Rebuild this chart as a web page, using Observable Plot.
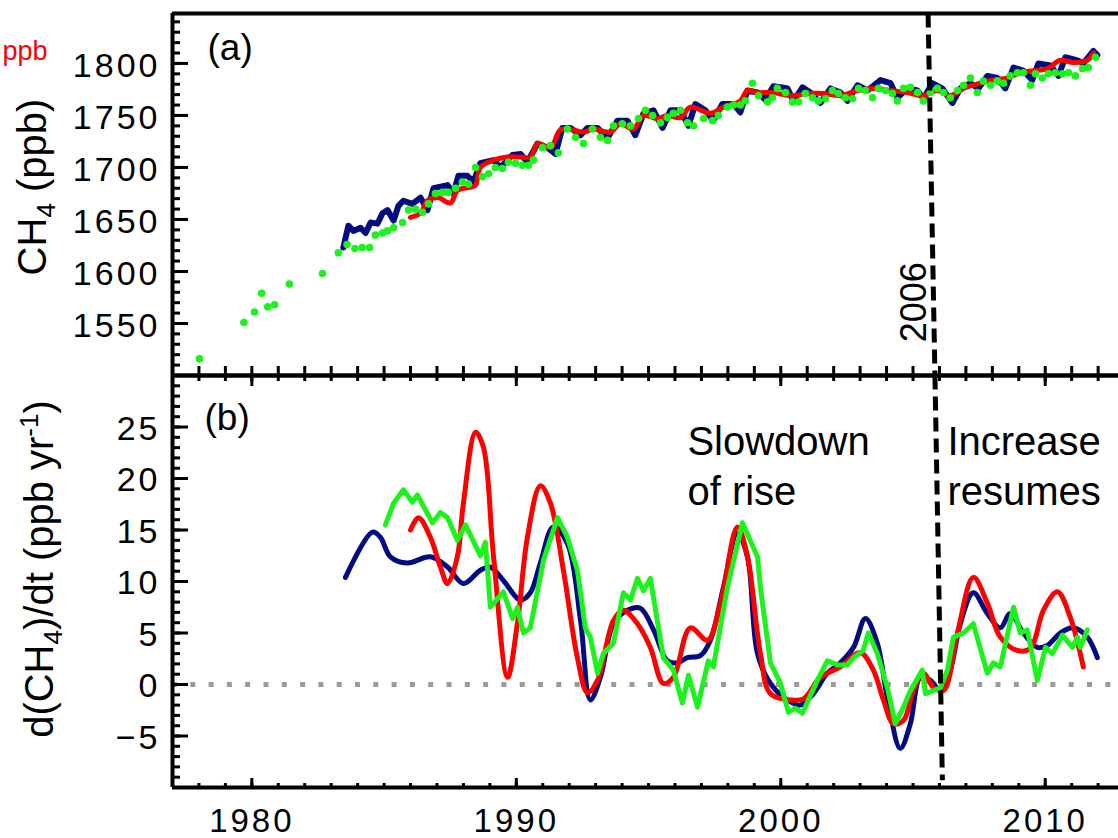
<!DOCTYPE html>
<html><head><meta charset="utf-8">
<script src="https://cdn.jsdelivr.net/npm/d3@7"></script>
<script src="https://cdn.jsdelivr.net/npm/@observablehq/plot@0.6"></script>
<style>
body{margin:0;background:#fff;}
#chart svg{display:block;}
</style></head><body><div id="chart"></div>
<script>
// ---------- data (year, value) ----------
// Panel (a): CH4 mixing ratio (ppb)
const aBlue = [[1983.46,1623],[1983.65,1644],[1983.84,1639],[1984.11,1642],[1984.30,1637],[1984.49,1647],[1984.75,1646],[1984.94,1656],[1985.13,1659],[1985.36,1649],[1985.54,1663],[1985.73,1668],[1986.07,1665],[1986.38,1671],[1986.64,1659],[1986.87,1680],[1987.40,1683],[1987.62,1675],[1987.81,1692],[1988.15,1692],[1988.38,1686],[1988.64,1704],[1989.14,1707],[1989.40,1700],[1989.85,1712],[1990.16,1713],[1990.42,1705],[1990.80,1723],[1991.18,1719],[1991.48,1713],[1991.74,1738],[1992.05,1738],[1992.43,1731],[1992.69,1738],[1993.07,1738],[1993.45,1728],[1993.82,1745],[1994.20,1745],[1994.50,1731],[1994.81,1752],[1995.19,1755],[1995.53,1738],[1995.83,1755],[1996.21,1755],[1996.51,1740],[1996.77,1761],[1997.15,1755],[1997.45,1745],[1997.79,1761],[1998.21,1761],[1998.47,1753],[1998.74,1774],[1999.12,1772],[1999.42,1765],[1999.72,1778],[2000.05,1777],[2000.25,1776],[2000.48,1764],[2000.82,1777],[2001.12,1772],[2001.50,1762],[2001.88,1776],[2002.26,1772],[2002.52,1764],[2002.90,1779],[2003.28,1774],[2003.77,1784],[2004.15,1781],[2004.41,1767],[2004.79,1776],[2005.17,1774],[2005.39,1766],[2005.73,1781],[2006.11,1776],[2006.49,1762],[2006.79,1776],[2007.17,1781],[2007.47,1776],[2007.81,1788],[2008.19,1786],[2008.49,1776],[2008.80,1796],[2009.17,1793],[2009.51,1784],[2009.74,1800],[2010.20,1798],[2010.50,1788],[2010.76,1806],[2011.22,1803],[2011.44,1800],[2011.82,1812],[2011.97,1808]];
const aRed = [[1986.00,1652],[1986.38,1656],[1986.64,1668],[1987.02,1671],[1987.51,1666],[1987.78,1678],[1988.27,1681],[1988.46,1683],[1988.64,1700],[1989.14,1707],[1989.67,1710],[1990.16,1710],[1990.54,1710],[1990.80,1723],[1991.29,1719],[1991.67,1736],[1992.16,1736],[1992.54,1734],[1992.92,1737],[1993.56,1734],[1993.94,1742],[1994.43,1737],[1994.81,1750],[1995.34,1747],[1995.71,1750],[1996.21,1748],[1996.58,1758],[1997.34,1752],[1997.83,1758],[1998.47,1764],[1998.74,1774],[1999.12,1772],[1999.72,1772],[2000.37,1769],[2001.01,1771],[2001.61,1771],[2002.26,1769],[2002.90,1774],[2003.50,1776],[2004.15,1774],[2004.79,1772],[2005.39,1769],[2005.92,1774],[2006.41,1769],[2006.91,1776],[2007.55,1781],[2008.04,1784],[2008.57,1786],[2009.06,1791],[2009.55,1793],[2010.08,1795],[2010.57,1803],[2011.06,1801],[2011.59,1803],[2011.82,1810]];
const aGreen = [[1978.02,1516],[1979.70,1551],[1980.10,1561],[1980.37,1579],[1980.60,1566],[1980.86,1568],[1981.42,1588],[1982.67,1598],[1983.27,1618],[1983.60,1626],[1983.90,1622],[1984.17,1623],[1984.45,1623],[1984.67,1635],[1984.94,1637],[1985.13,1639],[1985.36,1642],[1985.70,1647],[1985.92,1659],[1986.19,1660],[1986.45,1657],[1986.68,1665],[1986.94,1675],[1987.21,1676],[1987.43,1676],[1987.70,1680],[1987.96,1686],[1988.19,1684],[1988.46,1700],[1988.72,1691],[1988.95,1694],[1989.21,1700],[1989.48,1699],[1989.70,1705],[1989.97,1704],[1990.23,1702],[1990.46,1702],[1990.65,1707],[1990.99,1719],[1991.29,1721],[1991.59,1714],[1991.93,1737],[1992.24,1729],[1992.54,1723],[1992.88,1737],[1993.18,1729],[1993.45,1726],[1993.67,1740],[1994.01,1742],[1994.32,1740],[1994.62,1747],[1994.88,1755],[1995.15,1750],[1995.45,1743],[1995.71,1748],[1995.94,1752],[1996.21,1755],[1996.47,1743],[1996.70,1740],[1997.08,1747],[1997.42,1745],[1997.64,1750],[1997.98,1758],[1998.21,1760],[1998.47,1760],[1998.66,1764],[1998.93,1781],[1999.16,1769],[1999.50,1763],[1999.68,1767],[1999.87,1776],[2000.18,1772],[2000.44,1763],[2000.67,1763],[2000.93,1771],[2001.20,1767],[2001.42,1764],[2001.69,1766],[2001.95,1774],[2002.18,1771],[2002.44,1767],[2002.71,1766],[2002.94,1776],[2003.20,1774],[2003.47,1767],[2003.69,1776],[2003.96,1774],[2004.22,1771],[2004.41,1764],[2004.64,1776],[2004.90,1777],[2005.17,1772],[2005.39,1764],[2005.66,1772],[2005.92,1776],[2006.15,1772],[2006.41,1767],[2006.68,1774],[2006.91,1779],[2007.17,1786],[2007.43,1772],[2007.66,1783],[2007.93,1779],[2008.19,1783],[2008.42,1781],[2008.68,1788],[2008.95,1791],[2009.17,1791],[2009.44,1779],[2009.63,1790],[2009.89,1786],[2010.12,1790],[2010.38,1791],[2010.65,1790],[2010.88,1791],[2011.14,1788],[2011.41,1795],[2011.63,1796],[2011.90,1806]];

// Panel (b): growth rate d(CH4)/dt (ppb/yr)
const bBlue = [[1983.54,10.4],[1984.56,14.8],[1984.86,14.3],[1985.24,12.4],[1985.88,11.8],[1986.75,12.4],[1987.40,11.4],[1988.00,9.8],[1988.64,11.1],[1989.02,11.4],[1989.51,10.1],[1990.16,8.2],[1990.53,8.9],[1990.91,11.8],[1991.40,15.3],[1991.93,13.7],[1992.43,6.2],[1992.80,-1.5],[1993.18,0.7],[1993.67,5.9],[1994.20,7.2],[1994.69,7.4],[1995.19,5.3],[1995.71,2.3],[1996.09,2.1],[1996.47,2.6],[1996.96,2.8],[1997.34,4.3],[1997.83,9.4],[1998.36,14.7],[1998.74,12.4],[1999.12,3.0],[1999.61,0.1],[2000.25,-1.5],[2000.74,-2.0],[2001.23,-0.9],[2001.76,1.1],[2002.25,2.1],[2002.75,3.6],[2003.20,6.4],[2003.65,4.0],[2004.03,-1.3],[2004.52,-6.2],[2004.90,-3.8],[2005.28,0.7],[2005.66,0.4],[2006.04,-0.6],[2006.41,1.4],[2006.79,5.9],[2007.28,8.9],[2007.81,6.9],[2008.30,5.5],[2008.68,6.9],[2009.17,5.0],[2009.70,3.6],[2010.08,3.8],[2010.57,5.0],[2011.06,5.5],[2011.59,4.6],[2011.97,2.6]];
const bRed = [[1986.00,15.0],[1986.30,16.2],[1986.75,14.3],[1987.13,11.4],[1987.40,9.8],[1987.77,12.4],[1988.00,17.6],[1988.46,24.5],[1988.76,23.0],[1989.14,12.4],[1989.67,0.7],[1990.04,5.9],[1990.42,14.3],[1990.91,19.3],[1991.29,17.6],[1991.78,11.1],[1992.31,2.6],[1992.69,-0.8],[1993.07,0.4],[1993.67,6.2],[1994.05,7.2],[1994.58,5.9],[1995.07,3.6],[1995.56,0.1],[1995.94,0.7],[1996.58,5.5],[1997.23,4.3],[1997.72,7.9],[1998.36,15.3],[1998.74,12.4],[1999.23,3.0],[1999.61,-0.9],[2000.36,-1.5],[2000.86,-1.4],[2001.50,0.7],[2002.25,1.7],[2003.00,3.1],[2003.50,1.4],[2003.88,-1.5],[2004.26,-3.8],[2004.64,-3.5],[2005.01,-0.6],[2005.39,1.1],[2005.77,-0.3],[2006.15,-0.6],[2006.68,5.0],[2007.28,10.4],[2007.81,7.9],[2008.30,4.6],[2008.95,3.3],[2009.44,3.5],[2009.93,7.2],[2010.46,9.0],[2010.95,6.5],[2011.44,1.7]];
const bGreen = [[1985.05,15.5],[1985.36,17.6],[1985.73,18.9],[1986.07,17.7],[1986.26,18.4],[1986.83,15.7],[1987.13,16.7],[1987.40,16.2],[1987.77,14.0],[1988.08,15.5],[1988.64,12.5],[1988.83,13.8],[1989.02,7.5],[1989.51,9.0],[1989.86,6.4],[1990.04,7.5],[1990.27,5.0],[1990.53,5.5],[1991.03,12.1],[1991.56,16.2],[1991.93,14.3],[1992.31,11.1],[1992.61,5.5],[1992.80,4.6],[1993.07,1.1],[1993.29,3.0],[1993.67,4.0],[1994.05,8.9],[1994.32,8.2],[1994.58,10.3],[1994.81,9.1],[1995.07,10.3],[1995.56,2.6],[1995.94,1.4],[1996.28,-1.8],[1996.51,0.9],[1996.85,-2.2],[1997.26,2.3],[1997.45,1.7],[1997.98,9.4],[1998.55,15.7],[1999.12,12.4],[1999.23,9.4],[1999.61,2.1],[1999.99,0.1],[2000.29,-2.7],[2000.55,-2.3],[2000.82,-2.8],[2001.38,0.4],[2001.76,2.3],[2002.14,1.9],[2002.52,1.9],[2002.75,2.6],[2003.12,3.3],[2003.31,5.0],[2003.65,3.0],[2004.03,-0.3],[2004.33,-3.8],[2004.64,-2.2],[2004.90,-0.6],[2005.35,1.4],[2005.47,-0.9],[2005.77,-0.6],[2006.04,-0.3],[2006.30,1.4],[2006.53,4.6],[2006.91,5.0],[2007.28,5.9],[2007.81,1.1],[2008.04,2.1],[2008.30,1.7],[2008.80,7.5],[2009.06,5.0],[2009.32,5.3],[2009.70,0.4],[2010.01,3.6],[2010.27,3.0],[2010.65,4.8],[2011.03,3.6],[2011.22,4.6],[2011.33,3.6],[2011.59,5.3]];

// axis ticks / labels
const yearMinor = d3.range(1977, 2013, 1);
const yearMajor = [1980, 1990, 2000, 2010];
const aTickLabels = [1550, 1600, 1650, 1700, 1750, 1800];
const aMinor = d3.range(1500, 1850, 10);
const aMajor = d3.range(1500, 1850, 50);
const bTickLabels = [-5, 0, 5, 10, 15, 20, 25];
const bMinor = d3.range(-10, 31, 1);
const bMajor = d3.range(-10, 31, 5);

// reference lines & annotations
const zeroLine = [0];
const breakA = [{x1: 2005.57, y1: 1848, x2: 2005.83, y2: 1500}];
const breakB = [{x1: 2005.83, y1: 30, x2: 2006.11, y2: -9.3}];
const breakLabel = [{x: 2005.51, y: 1532, text: "2006"}];
const notesB = [{x: 1996.47, y: 17.4, text: "Slowdown\nof rise"}, {x: 2006.30, y: 17.4, text: "Increase\nresumes"}];

// ---------- drawing ----------
const NAVY = "#000c80", RED = "#ff0000", GREEN = "#1cf21c";
const FONT = "'Liberation Sans', Arial, Helvetica, sans-serif";
const xDomain = [1977, 2012.77];
const common = {width: 1118, marginLeft: 172, marginRight: 0, style: {fontFamily: FONT, background: "white", overflow: "visible"}};
const P = d => d[0], V = d => d[1];

const panelA = Plot.plot({
  ...common, height: 375, marginTop: 13, marginBottom: 0,
  x: {domain: xDomain},
  y: {domain: [1500, 1848]},
  marks: [
    Plot.axisY({ticks: aTickLabels, tickSize: 0, tickPadding: 12, dy: 3, fontSize: 34, tickFormat: "d", label: null}),
    Plot.axisY({ticks: aMinor, tickSize: -8, strokeWidth: 3, fill: "none", label: null}),
    Plot.axisY({ticks: aMajor, tickSize: -16, strokeWidth: 3, fill: "none", label: null}),
    Plot.axisX({anchor: "bottom", ticks: yearMinor, tickSize: -9, strokeWidth: 3, fill: "none", label: null}),
    Plot.line(aBlue, {x: P, y: V, stroke: NAVY, strokeWidth: 6}),
    Plot.line(aRed, {x: P, y: V, stroke: RED, strokeWidth: 5, curve: "catmull-rom"}),
    Plot.dot(aGreen, {x: P, y: V, r: 3.8, fill: GREEN, stroke: "none"}),
    Plot.link(breakA, {x1: "x1", y1: "y1", x2: "x2", y2: "y2", stroke: "black", strokeWidth: 5, strokeDasharray: "14,7"}),
    Plot.text(breakLabel, {x: "x", y: "y", text: "text", rotate: -90, textAnchor: "start", lineAnchor: "bottom", fontSize: 36}),
    Plot.text(["(a)"], {frameAnchor: "top-left", dx: 35, dy: 46, textAnchor: "start", lineAnchor: "bottom", fontSize: 37}),
    Plot.text(["ppb"], {frameAnchor: "top-left", dx: -125, dy: 46, textAnchor: "end", lineAnchor: "bottom", fontSize: 27, fill: RED}),
    Plot.ruleX([1977], {stroke: "black", strokeWidth: 4}),
    Plot.ruleY([1848], {stroke: "black", strokeWidth: 4}),
    Plot.ruleY([1500], {stroke: "black", strokeWidth: 4})
  ]
});

const panelB = Plot.plot({
  ...common, height: 463, marginTop: 0, marginBottom: 51,
  x: {domain: xDomain},
  y: {domain: [-10, 30]},
  marks: [
    Plot.ruleY(zeroLine, {stroke: "#9a9a9a", strokeWidth: 5, strokeDasharray: "5,13.3"}),
    Plot.axisY({ticks: bTickLabels, tickSize: 0, tickPadding: 12, dy: 2, fontSize: 34, tickFormat: "d", label: null}),
    Plot.axisY({ticks: bMinor, tickSize: -8, strokeWidth: 3, fill: "none", label: null}),
    Plot.axisY({ticks: bMajor, tickSize: -16, strokeWidth: 3, fill: "none", label: null}),
    Plot.axisX({anchor: "bottom", ticks: yearMajor, tickSize: 0, tickPadding: 21, fontSize: 33, tickFormat: "d", label: null}),
    Plot.axisX({anchor: "bottom", ticks: yearMinor, tickSize: -4, strokeWidth: 3, fill: "none", label: null}),
    Plot.axisX({anchor: "bottom", ticks: yearMajor, tickSize: -9, strokeWidth: 3, fill: "none", label: null}),
    Plot.axisX({anchor: "top", ticks: yearMinor, tickSize: -5, strokeWidth: 3, fill: "none", label: null}),
    Plot.axisX({anchor: "top", ticks: yearMajor, tickSize: -10, strokeWidth: 3, fill: "none", label: null}),
    Plot.line(bBlue, {x: P, y: V, stroke: NAVY, strokeWidth: 5, curve: "catmull-rom"}),
    Plot.line(bRed, {x: P, y: V, stroke: RED, strokeWidth: 5, curve: "catmull-rom"}),
    Plot.line(bGreen, {x: P, y: V, stroke: GREEN, strokeWidth: 5}),
    Plot.link(breakB, {x1: "x1", y1: "y1", x2: "x2", y2: "y2", stroke: "black", strokeWidth: 5, strokeDasharray: "14,7"}),
    Plot.text(notesB, {x: "x", y: "y", text: "text", textAnchor: "start", lineAnchor: "bottom", lineHeight: 1.25, fontSize: 40}),
    Plot.text(["(b)"], {frameAnchor: "top-left", dx: 32, dy: 54, textAnchor: "start", lineAnchor: "bottom", fontSize: 37}),
    Plot.ruleX([1977], {stroke: "black", strokeWidth: 4}),
    Plot.ruleY([30], {stroke: "black", strokeWidth: 4}),
    Plot.ruleY([-10], {stroke: "black", strokeWidth: 4})
  ]
});

// widen tick-label lettering like the original
for (const svg of [panelA, panelB]) {
  d3.select(svg).selectAll('g[aria-label="y-axis tick label"], g[aria-label="x-axis tick label"]').attr("letter-spacing", "3px");
}

// rotated axis titles with sub/superscripts
function axisTitle(svg, x, y, parts) {
  const t = d3.select(svg).append("text")
    .attr("transform", `translate(${x},${y}) rotate(-90)`)
    .attr("text-anchor", "middle").attr("font-size", 40).attr("fill", "black")
    .attr("font-family", FONT);
  let shift = 0;
  for (const [s, kind] of parts) {
    const target = kind === "sub" ? 9 : kind === "sup" ? -15 : 0;
    t.append("tspan").attr("dy", target - shift).attr("font-size", kind ? 26 : 40).text(s);
    shift = target;
  }
}
axisTitle(panelA, 46, 187, [["CH"], ["4", "sub"], [" (ppb)"]]);
axisTitle(panelB, 53, 194, [["d(CH"], ["4", "sub"], [")/dt (ppb yr"], ["-1", "sup"], [")"]]);

const chart = document.getElementById("chart");
chart.append(panelA, panelB);
</script>
</body></html>
